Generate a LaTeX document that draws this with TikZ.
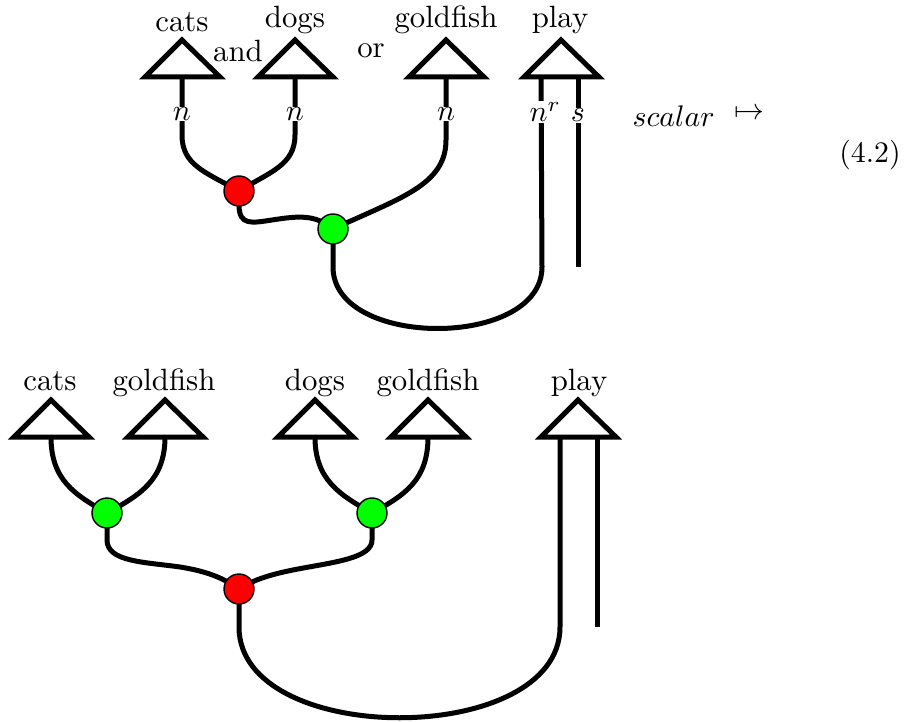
\documentclass[tikz,border=0pt]{standalone}
\usetikzlibrary{backgrounds}
\begin{document}
\begin{tikzpicture}[x=1pt,y=-1pt,
  wire/.style={line width=5pt},
  tri/.style={line width=5pt,line join=miter},
  spider/.style={circle,draw=black,line width=1.4pt,minimum size=30pt,inner sep=0pt},
  redsp/.style={spider,fill=red},
  greensp/.style={spider,fill=green},
  word/.style={anchor=base,scale=3.08,inner sep=0pt},
  lab/.style={fill=white,scale=3.0,inner sep=0.3pt},
  mathtxt/.style={scale=2.98,inner sep=0pt}]
\useasboundingbox (0,0) rectangle (908,722);
% ---------- top diagram ----------
\foreach \nm/\x in {tcats/182,tdogs/295,tgold1/446,tplay/561}{
  \draw[tri] (\x-37,77) -- (\x,40) -- (\x+38,77) -- cycle;
  \coordinate (\nm) at (\x,77);
}
\coordinate (tnr) at (541,77);
\coordinate (ts) at (578,77);
\node[word] (wcats) at (182,32) {cats};
\node[word] (wand) at (238,62) {and};
\node[word] (wdogs) at (295,28) {dogs};
\node[word] (wor) at (371,58) {or};
\node[word] (wgold) at (446,28) {goldfish};
\node[word] (wplay) at (560,28) {play};
\node[redsp] (r1) at (239,191) {};
\node[greensp] (g1) at (333,229) {};
\coordinate (send1) at (578,267);
\begin{pgfonlayer}{background}
\draw[wire] (tcats) -- (182,135) .. controls (182,165) and (205,172) .. (r1.center);
\draw[wire] (tdogs) -- (295,135) .. controls (295,165) and (270,172) .. (r1.center);
\draw[wire] (r1.center) -- (239,205) .. controls (239,226) and (252,223) .. (272,220) .. controls (298,216) and (315,214) .. (g1.center);
\draw[wire] (tgold1) -- (446,140) .. controls (446,185) and (400,198) .. (g1.center);
\draw[wire] (g1.center) -- (333,267) .. controls (333,349) and (542,349) .. (542,267) -- (tnr);
\draw[wire] (ts) -- (send1);
\end{pgfonlayer}
\node[lab] (n1) at (182,114) {$n$};
\node[lab] (n2) at (295,114) {$n$};
\node[lab] (n3) at (446,114) {$n$};
\node[lab,anchor=base west] (n4) at (528,122) {$n^r$};
\node[lab,anchor=base] (n5) at (578,122) {$s$};
\node[mathtxt,anchor=base west] (sc) at (632,127) {$scalar$};
\node[mathtxt] (mt) at (749,114) {$\mapsto$};
\node[mathtxt,anchor=base] (eq) at (870,163) {(4.2)};
% ---------- bottom diagram ----------
\foreach \nm/\x in {bcats/51,bgold1/165,bdogs/315,bgold2/428,bplay/578}{
  \draw[tri] (\x-37,437) -- (\x,400) -- (\x+38,437) -- cycle;
  \coordinate (\nm) at (\x,437);
}
\coordinate (bnr) at (560,437);
\coordinate (bs) at (597,437);
\node[word] (xcats) at (50,390) {cats};
\node[word] (xgold1) at (164,390) {goldfish};
\node[word] (xdogs) at (315,390) {dogs};
\node[word] (xgold2) at (428,390) {goldfish};
\node[word] (xplay) at (579,390) {play};
\node[greensp] (g2) at (107,513) {};
\node[greensp] (g3) at (372,513) {};
\node[redsp] (r2) at (239,589) {};
\coordinate (send2) at (597,627);
\begin{pgfonlayer}{background}
\draw[wire] (bcats) .. controls (51,480) and (75,495) .. (g2.center);
\draw[wire] (bgold1) .. controls (165,480) and (140,495) .. (g2.center);
\draw[wire] (bdogs) .. controls (315,480) and (340,495) .. (g3.center);
\draw[wire] (bgold2) .. controls (428,480) and (405,495) .. (g3.center);
\draw[wire] (g2.center) -- (107,540) .. controls (107,562) and (145,562) .. (180,567) .. controls (205,571) and (222,577) .. (r2.center);
\draw[wire] (g3.center) -- (372,540) .. controls (372,558) and (335,562) .. (298,569) .. controls (272,574) and (255,579) .. (r2.center);
\draw[wire] (r2.center) -- (239,627) .. controls (239,748) and (560,748) .. (560,627) -- (bnr);
\draw[wire] (bs) -- (send2);
\end{pgfonlayer}
\end{tikzpicture}
\end{document}
